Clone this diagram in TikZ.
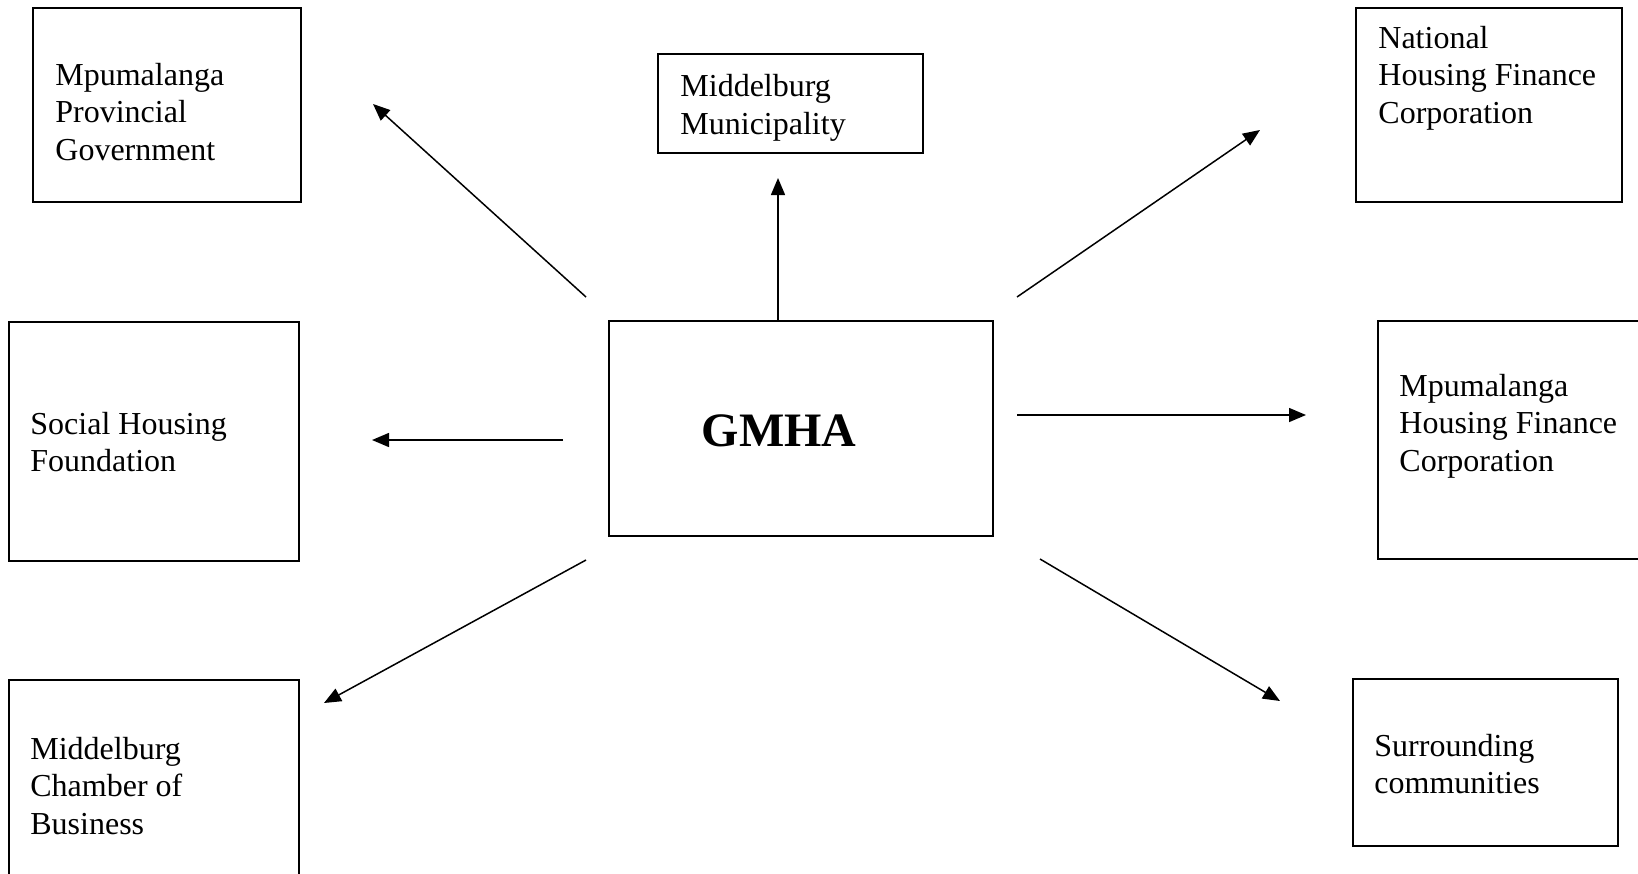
\documentclass[tikz,border=0pt]{standalone}
\usepackage{fontspec}
\setmainfont{Liberation Serif}
\usetikzlibrary{arrows.meta}

\begin{document}
\begin{tikzpicture}[x=0.5pt,y=-0.5pt,
		box/.style={draw=black,line width=0.9pt,inner sep=0pt,outer sep=0pt},
		lbl/.style={anchor=west,inner sep=0pt,align=left,font=\fontsize{16}{18.8}\selectfont},
		arr/.style={line width=0.75pt,-{Triangle[length=8.5pt,width=7pt]}}]
			\clip (0,0) rectangle (1638,873);

			\node[box,minimum width=134pt,minimum height=97pt] (mpg) at (167,105) {};
			\node[box,minimum width=132.5pt,minimum height=49.5pt] (mm) at (790.5,103.5) {};
			\node[box,minimum width=133pt,minimum height=97pt] (nhfc) at (1489,105) {};
			\node[box,minimum width=145pt,minimum height=119.5pt] (shf) at (154,441.5) {};
			\node[box,minimum width=192pt,minimum height=107.5pt] (gmha) at (801,428.5) {};
			\node[box,minimum width=133.5pt,minimum height=119pt] (mhfc) at (1511.5,440) {};
			\node[box,minimum width=145pt,minimum height=98pt] (mcb) at (154,778) {};
			\node[box,minimum width=132.5pt,minimum height=83.5pt] (sc) at (1485.5,762.5) {};

			\node[lbl] (mpgtext) at (55,112) {Mpumalanga\\Provincial\\Government};
			\node[lbl] (mmtext) at (680,108) {Middelburg\\Municipality};
			\node[lbl] (nhfctext) at (1378,78) {National\\Housing Finance\\Corporation};
			\node[lbl] (shftext) at (30,442) {Social Housing\\Foundation};
			\node[font=\fontsize{24}{28}\selectfont\bfseries] (gmhatext) at (779,431) {GMHA};
			\node[lbl] (mhfctext) at (1399,426) {Mpumalanga\\Housing Finance\\Corporation};
			\node[lbl] (mcbtext) at (30,786) {Middelburg\\Chamber of\\Business};
			\node[lbl] (sctext) at (1374,764) {Surrounding\\communities};

			\coordinate (s1) at (586,297);  \coordinate (e1) at (373,104);
			\coordinate (s2) at (778,321);  \coordinate (e2) at (778,178);
			\coordinate (s3) at (1017,297); \coordinate (e3) at (1260,130);
			\coordinate (s4) at (563,440);  \coordinate (e4) at (372,440);
			\coordinate (s5) at (1017,415); \coordinate (e5) at (1306,415);
			\coordinate (s6) at (586,560);  \coordinate (e6) at (324,703);
			\coordinate (s7) at (1040,559); \coordinate (e7) at (1280,701);

			\draw[arr] (s1) -- (e1);
			\draw[arr] (s2) -- (e2);
			\draw[arr] (s3) -- (e3);
			\draw[arr] (s4) -- (e4);
			\draw[arr] (s5) -- (e5);
			\draw[arr] (s6) -- (e6);
			\draw[arr] (s7) -- (e7);
		\end{tikzpicture}
\end{document}
